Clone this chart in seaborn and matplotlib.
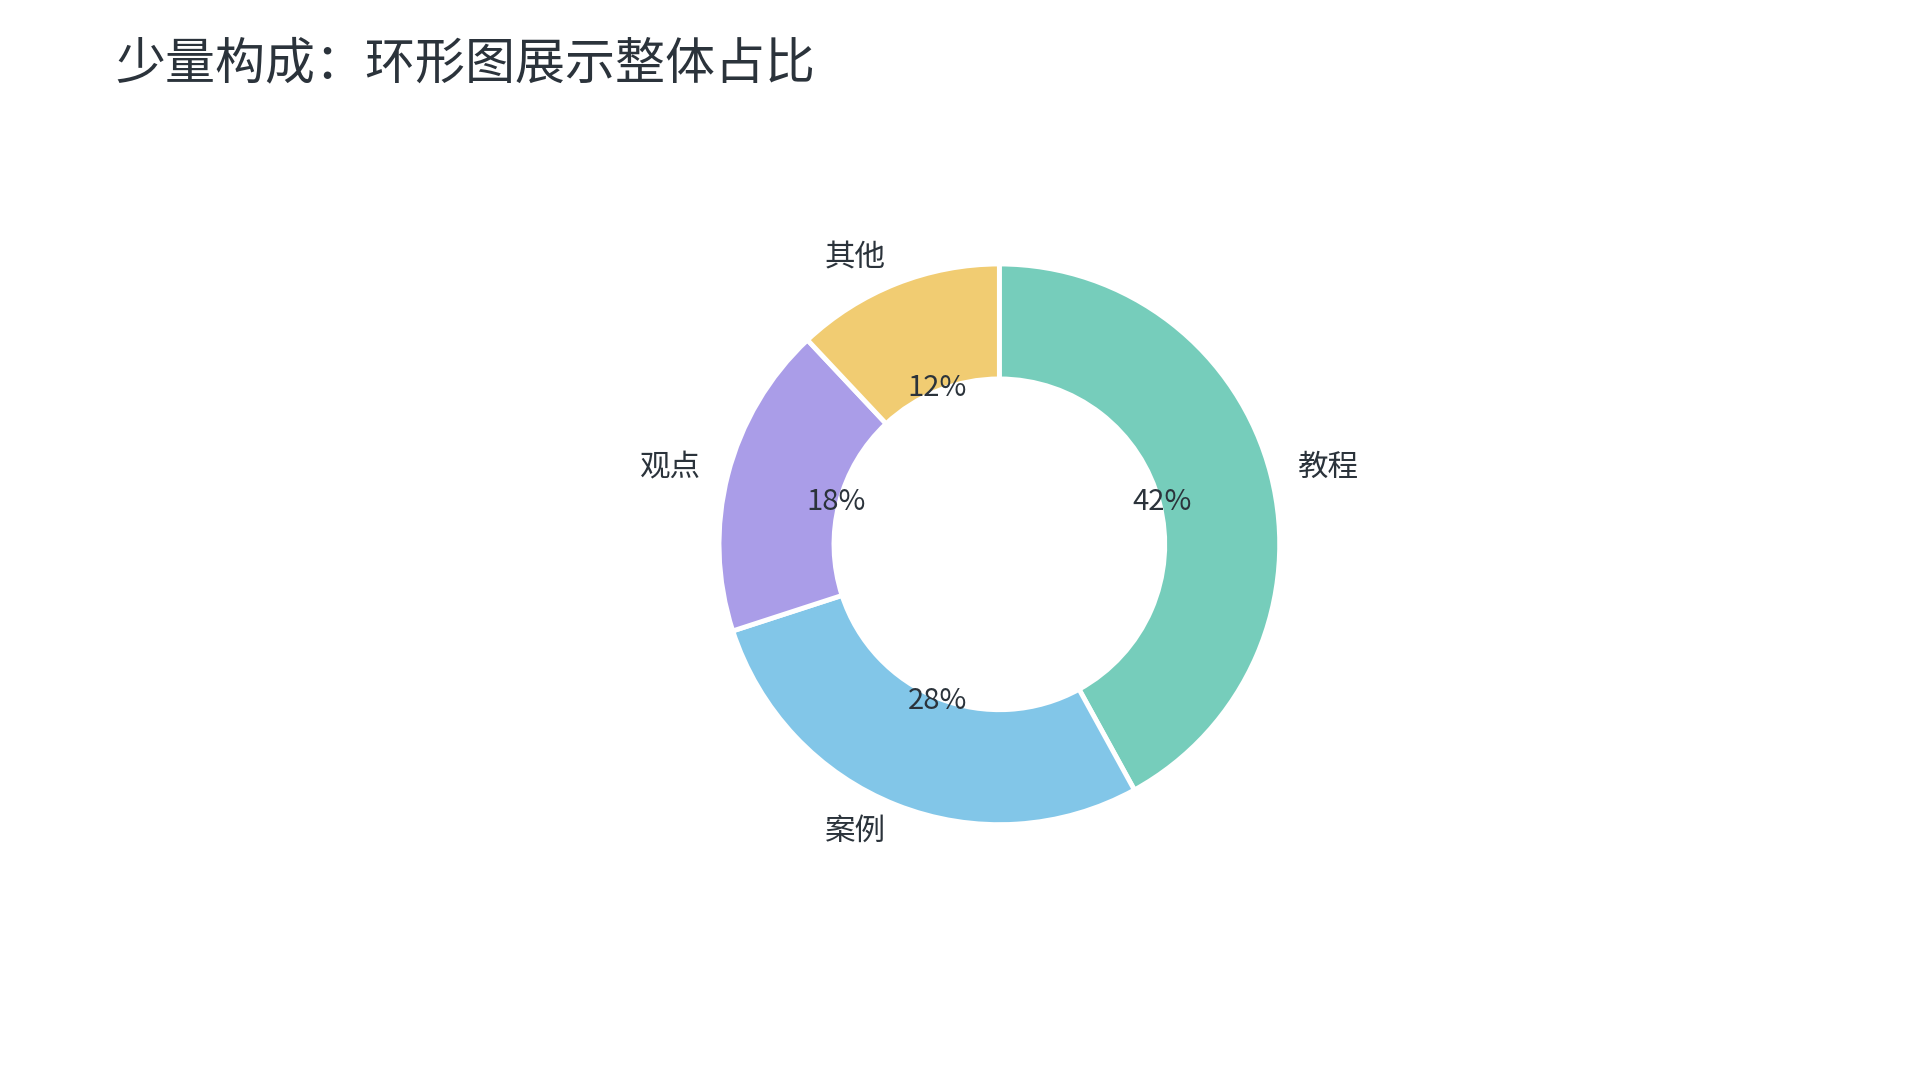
import matplotlib
matplotlib.use("Agg")
import matplotlib.pyplot as plt
import seaborn as sns

categories = ["教程", "案例", "观点", "其他"]
values = [42, 28, 18, 12]
colors_hex = ["#76CDBB", "#82C6E8", "#AA9DE8", "#F1CC72"]
title_text = "少量构成：环形图展示整体占比"

sns.set_theme(style="white")
plt.rcParams['font.family'] = ['Noto Sans CJK SC', 'DejaVu Sans']

palette = sns.color_palette(colors_hex)

fig = plt.figure(figsize=(19.2, 10.8), dpi=100)
fig.patch.set_facecolor("white")
ax = fig.add_axes([0.338, 0.1715, 0.365, 0.649])

wedges, texts, autotexts = ax.pie(
    values, labels=categories, colors=palette, startangle=90, counterclock=False,
    autopct="%1.0f%%", pctdistance=0.6, labeldistance=1.1,
    wedgeprops=dict(width=0.41, edgecolor="white", linewidth=3.5),
    textprops=dict(fontsize=22, color="#2B333B"),
)
for t in autotexts:
    t.set_fontsize(21)
ax.set_aspect("equal")

fig.text(0.06, 0.940, title_text, fontsize=36, color="#2B333B", ha="left", va="center")

fig.savefig("out.png", dpi=100, facecolor="white")
